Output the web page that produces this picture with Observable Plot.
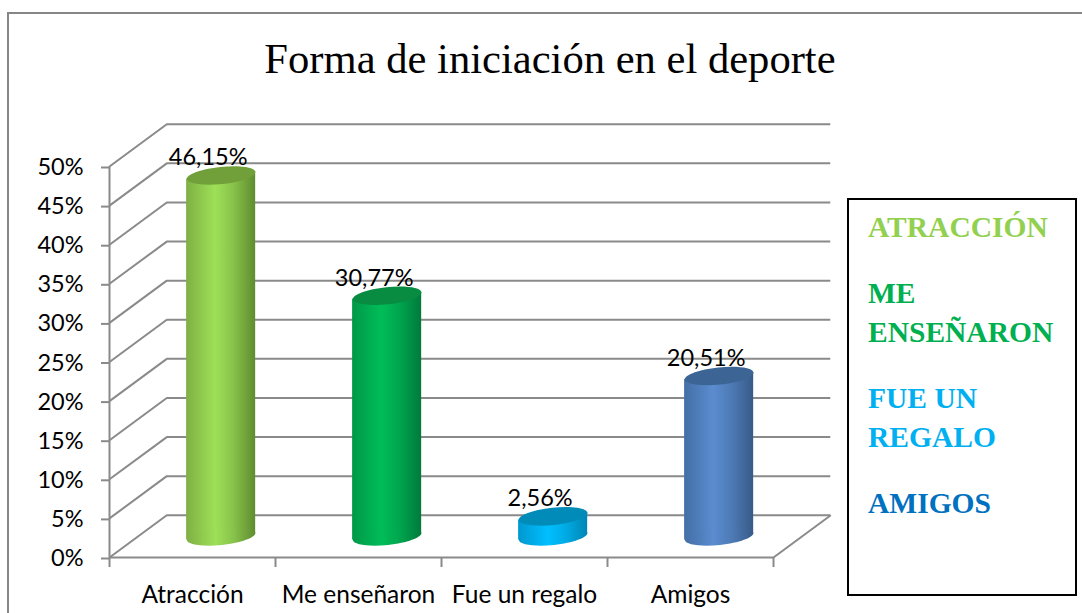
<!DOCTYPE html>
<html lang="es">
<head>
<meta charset="utf-8">
<script src="https://cdn.jsdelivr.net/npm/d3@7"></script>
<script src="https://cdn.jsdelivr.net/npm/@observablehq/plot@0.6"></script>
<style>
html,body{margin:0;padding:0;background:#fff;}
#page{position:relative;width:1082px;height:613px;overflow:hidden;}
#frame{position:absolute;left:7px;top:12px;width:1075px;height:601px;border-left:2px solid #868686;border-top:2px solid #868686;box-sizing:border-box;}
#title{position:absolute;left:0;top:35px;width:1100px;text-align:center;font:42.6px/48px "Liberation Serif",serif;color:#000;}
#legend{position:absolute;left:847px;top:198px;width:230px;height:398px;border:2px solid #000;box-sizing:border-box;background:#fff;padding:8px 0 0 19px;font:bold 29.5px/39px "Liberation Serif",serif;}
#legend div{width:200px;margin-bottom:27px;}
#chart{position:absolute;left:0;top:0;}
</style>
</head>
<body>
<div id="page">
  <div id="frame"></div>
  <div id="chart"></div>
  <div id="title"></div>
  <div id="legend"></div>
</div>
<script>
const titleText = "Forma de iniciación en el deporte";
const categories = ["Atracción", "Me enseñaron", "Fue un regalo", "Amigos"];
const values = [46.15, 30.77, 2.56, 20.51];
const valueLabels = ["46,15%", "30,77%", "2,56%", "20,51%"];
const legendLabels = ["ATRACCIÓN", "ME ENSEÑARON", "FUE UN REGALO", "AMIGOS"];
const legendColors = ["#92D050", "#00B050", "#00B0F0", "#0070C0"];
const bodyEdgeLeft = ["#7fb043", "#009848", "#0098d0", "#446fa6"];
const bodyLight = ["#9ee058", "#00bd58", "#00bfff", "#5a8ccf"];
const bodyEdgeRight = ["#5f8c30", "#007a3c", "#0086b4", "#375b88"];
const topColors = ["#71a03a", "#078c42", "#008bb8", "#3c6494"];
const yTicks = [0, 5, 10, 15, 20, 25, 30, 35, 40, 45, 50];
const xTicks = [0, 1, 2, 3, 4];

// Depth of the pseudo-3D box, in scale units
const depthX = 0.345;
const depthY = 5.4;
const halfWidth = 0.208;
const tilt = 0.45;

const ellipseSymbol = {
  draw(ctx, size) {
    const rx = Math.sqrt(size / Math.PI), ry = rx * 0.25, a = -6 * Math.PI / 180, k = 0.5523;
    const c = Math.cos(a), s = Math.sin(a);
    const p = (x, y) => [x * c - y * s, x * s + y * c];
    ctx.moveTo(...p(rx, 0));
    ctx.bezierCurveTo(...p(rx, k * ry), ...p(k * rx, ry), ...p(0, ry));
    ctx.bezierCurveTo(...p(-k * rx, ry), ...p(-rx, k * ry), ...p(-rx, 0));
    ctx.bezierCurveTo(...p(-rx, -k * ry), ...p(-k * rx, -ry), ...p(0, -ry));
    ctx.bezierCurveTo(...p(k * rx, -ry), ...p(rx, -k * ry), ...p(rx, 0));
    ctx.closePath();
  }
};

const gridStyle = {stroke: "#8a8a8a", strokeWidth: 2};
const cx = i => i + 0.5 + depthX / 2;
const gradients = () => {
  const g = document.createElementNS("http://www.w3.org/2000/svg", "g");
  g.innerHTML = "<defs>" + categories.map((_, i) =>
    `<linearGradient id="bar${i}" x1="0" x2="1" y1="0" y2="0">
      <stop offset="0" stop-color="${bodyEdgeLeft[i]}"/>
      <stop offset="0.42" stop-color="${bodyLight[i]}"/>
      <stop offset="0.68" stop-color="${d3.interpolateRgb(bodyLight[i], bodyEdgeRight[i])(0.35)}"/>
      <stop offset="1" stop-color="${bodyEdgeRight[i]}"/>
    </linearGradient>`).join("") + "</defs>";
  return g;
};

const barMarks = categories.flatMap((_, i) => {
  const base = depthY / 2, top = values[i] + depthY / 2, url = `url(#bar${i})`;
  const side = [
    {x: cx(i) - halfWidth, y1: base - tilt, y2: top - tilt},
    {x: cx(i) + halfWidth, y1: base + tilt, y2: top + tilt}
  ];
  return [
    Plot.areaY(side, {x: "x", y1: "y1", y2: "y2", fill: url}),
    Plot.dot([{x: cx(i), y: base}], {x: "x", y: "y", r: 34.5, symbol: ellipseSymbol, fill: url, stroke: "none"}),
    Plot.dot([{x: cx(i), y: top}], {x: "x", y: "y", r: 34.5, symbol: ellipseSymbol, fill: topColors[i], stroke: "none"})
  ];
});

const chart = Plot.plot({
  width: 1082,
  height: 613,
  marginLeft: 109,
  marginRight: 309,
  marginTop: 166,
  marginBottom: 56,
  style: {fontFamily: "Lato, sans-serif", background: "transparent"},
  x: {type: "linear", domain: [0, 4]},
  y: {type: "linear", domain: [0, 50]},
  marks: [
    gradients,
    // back wall
    Plot.ruleY(yTicks, {y: d => d + depthY, x1: depthX, x2: 4 + depthX, ...gridStyle}),
    // side wall and floor diagonals
    Plot.link(yTicks, {x1: 0, y1: d => d, x2: depthX, y2: d => d + depthY, ...gridStyle}),
    Plot.link([0], {x1: 4, y1: 0, x2: 4 + depthX, y2: depthY, ...gridStyle}),
    // front axes
    Plot.ruleX([0], {y1: 0, y2: 50, ...gridStyle}),
    Plot.ruleY([0], {x1: 0, x2: 4, ...gridStyle}),
    Plot.axisY({ticks: yTicks, tickFormat: d => d + "%", tickSize: 8, tickPadding: 18, fontSize: 23.5, label: null, stroke: "#8a8a8a", strokeWidth: 2, fill: "#000", dy: 1}),
    Plot.axisX({ticks: xTicks, tickFormat: () => "", tickSize: 10, label: null, stroke: "#8a8a8a", strokeWidth: 2}),
    Plot.text(categories, {x: (_, i) => i + 0.5, y: () => 0, text: d => d, dy: 45, lineAnchor: "bottom", fontSize: 24.5, fill: "#000"}),
    ...barMarks,
    Plot.text(valueLabels, {x: (_, i) => cx(i), y: (_, i) => values[i] + depthY / 2, text: d => d, dx: -13, dy: -10, lineAnchor: "bottom", fontSize: 23.5, fill: "#000"})
  ]
});
document.getElementById("chart").append(chart);
document.getElementById("title").textContent = titleText;
const legend = d3.select("#legend");
legendLabels.forEach((t, i) => legend.append("div").style("color", legendColors[i]).text(t));
</script>
</body>
</html>
